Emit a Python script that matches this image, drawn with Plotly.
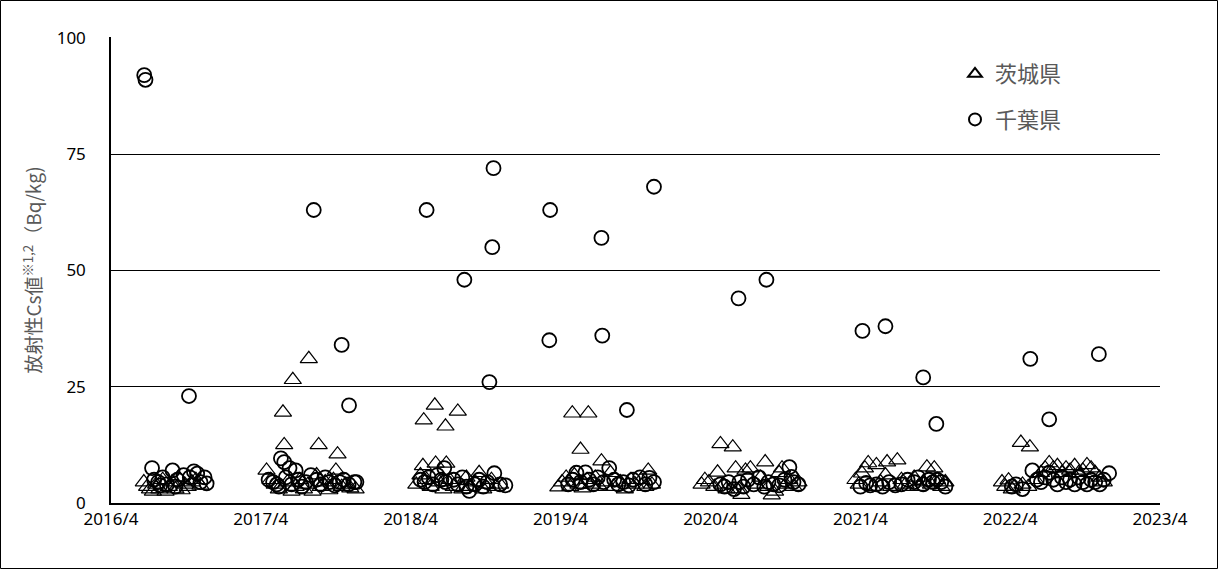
import plotly.graph_objects as go

# ---- data ----
ibaraki_dates = [
    # 2016
    "2016-06-20", "2016-06-28", "2016-07-05", "2016-07-12", "2016-07-20", "2016-07-28", "2016-08-05",
    "2016-08-12", "2016-08-20", "2016-08-28", "2016-09-05", "2016-09-12", "2016-09-20", "2016-09-28",
    "2016-10-05", "2016-10-15", "2016-10-25", "2016-11-05",
    # 2017
    "2017-04-15", "2017-04-25", "2017-05-05", "2017-05-15", "2017-05-25", "2017-05-28", "2017-06-05",
    "2017-06-15", "2017-06-18", "2017-06-25", "2017-07-05", "2017-07-15", "2017-07-25", "2017-07-27",
    "2017-08-05", "2017-08-15", "2017-08-20", "2017-08-25", "2017-09-05", "2017-09-15", "2017-09-25",
    "2017-10-01", "2017-10-05", "2017-10-15", "2017-10-25", "2017-11-05", "2017-11-18",
    # 2018
    "2018-04-15", "2018-04-25", "2018-05-01", "2018-05-03", "2018-05-10", "2018-05-20", "2018-05-30",
    "2018-06-01", "2018-06-10", "2018-06-20", "2018-06-25", "2018-06-27", "2018-07-05", "2018-07-15",
    "2018-07-25", "2018-08-05", "2018-08-15", "2018-08-25", "2018-09-05", "2018-09-15", "2018-09-25",
    "2018-10-05", "2018-10-15", "2018-10-25", "2018-11-05",
    # 2019
    "2019-03-27", "2019-04-05", "2019-04-15", "2019-04-25", "2019-04-30", "2019-05-05", "2019-05-15",
    "2019-05-20", "2019-05-25", "2019-06-05", "2019-06-08", "2019-06-15", "2019-06-25", "2019-07-05",
    "2019-07-10", "2019-07-20", "2019-08-01", "2019-08-10", "2019-08-25", "2019-09-05", "2019-09-20",
    "2019-10-01", "2019-10-15", "2019-10-25", "2019-11-01", "2019-11-10",
    # 2020
    "2020-03-10", "2020-03-18", "2020-03-28", "2020-04-10", "2020-04-18", "2020-04-25", "2020-05-01",
    "2020-05-10", "2020-05-25", "2020-06-01", "2020-06-10", "2020-06-15", "2020-06-25", "2020-07-07",
    "2020-07-20", "2020-08-01", "2020-08-12", "2020-08-20", "2020-08-28", "2020-09-05", "2020-09-15",
    "2020-09-22", "2020-10-01", "2020-10-10", "2020-10-20", "2020-11-01",
    # 2021
    "2021-03-20", "2021-03-28", "2021-04-05", "2021-04-12", "2021-04-20", "2021-05-01", "2021-05-10",
    "2021-05-20", "2021-06-01", "2021-06-05", "2021-06-15", "2021-06-30", "2021-07-10", "2021-07-20",
    "2021-08-01", "2021-08-10", "2021-08-20", "2021-09-01", "2021-09-10", "2021-09-20", "2021-09-28",
    "2021-10-05", "2021-10-15", "2021-10-25",
    # 2022
    "2022-03-12", "2022-03-20", "2022-03-28", "2022-04-05", "2022-04-12", "2022-04-27", "2022-05-01",
    "2022-05-15", "2022-05-19", "2022-06-01", "2022-06-15", "2022-06-25", "2022-07-05", "2022-07-15",
    "2022-07-25", "2022-08-05", "2022-08-15", "2022-08-25", "2022-09-05", "2022-09-15", "2022-09-25",
    "2022-10-05", "2022-10-15", "2022-10-25", "2022-11-05", "2022-11-15",
]
ibaraki_values = [
    # 2016
    4.5, 3.5, 3.0, 2.5, 4.0, 3.0, 5.0, 2.5, 3.5, 4.5, 3.0, 5.5, 2.8, 4.0, 3.5, 4.5, 5.0, 3.8,
    # 2017
    7.0, 5.0, 4.0, 3.0, 19.5, 12.5, 4.5, 2.5, 26.5, 3.5, 5.0, 3.0, 4.0, 31.0,
    2.5, 6.0, 12.5, 3.5, 4.5, 2.8, 5.0, 7.0, 10.5, 3.5, 4.0, 3.2, 3.0,
    # 2018
    4.0, 6.0, 8.0, 17.8, 5.0, 3.5, 21.0, 8.5, 4.5, 3.0, 16.5, 8.5, 5.0, 3.5,
    19.7, 3.0, 5.5, 3.5, 4.5, 6.5, 3.0, 4.0, 5.0, 3.5, 4.0,
    # 2019
    3.4, 4.5, 5.5, 3.5, 19.3, 6.0, 4.0, 11.5, 3.2, 5.0, 19.3, 4.0, 5.5, 3.5,
    9.0, 4.5, 6.5, 3.5, 4.5, 3.0, 5.0, 4.0, 5.0, 3.5, 7.0, 4.0,
    # 2020
    4.0, 5.0, 4.5, 3.5, 6.6, 12.7, 4.0, 3.0, 12.0, 7.5, 3.0, 1.8, 7.0, 7.5,
    4.0, 5.5, 8.8, 3.5, 1.7, 2.5, 6.5, 7.5, 4.0, 5.0, 3.5, 4.5,
    # 2021
    5.0, 4.0, 6.4, 7.5, 8.6, 3.5, 8.2, 4.5, 6.0, 8.8, 3.5, 9.2, 5.0, 4.0,
    3.5, 5.5, 3.5, 4.5, 7.7, 4.0, 7.5, 5.0, 3.5, 4.5,
    # 2022
    4.5, 3.5, 4.9, 3.0, 3.5, 13.0, 4.0, 3.5, 12.0, 5.0, 6.5, 7.5, 8.6, 7.5,
    8.0, 6.5, 7.5, 7.0, 8.0, 6.5, 7.0, 8.2, 7.5, 6.5, 5.5, 4.5,
]

chiba_dates = [
    # 2016
    "2016-06-21", "2016-06-24", "2016-07-10", "2016-07-15", "2016-07-25", "2016-07-30", "2016-08-05",
    "2016-08-15", "2016-08-29", "2016-09-05", "2016-09-10", "2016-09-25", "2016-10-08", "2016-10-10",
    "2016-10-20", "2016-10-28", "2016-11-05", "2016-11-15", "2016-11-20",
    # 2017
    "2017-04-20", "2017-05-01", "2017-05-10", "2017-05-15", "2017-05-20", "2017-05-28", "2017-06-01",
    "2017-06-10", "2017-06-15", "2017-06-25", "2017-07-01", "2017-07-10", "2017-07-20", "2017-08-01",
    "2017-08-08", "2017-08-15", "2017-08-25", "2017-09-05", "2017-09-15", "2017-09-28", "2017-10-10",
    "2017-10-15", "2017-10-20", "2017-11-01", "2017-11-02", "2017-11-15", "2017-11-20",
    # 2018
    "2018-04-25", "2018-05-05", "2018-05-10", "2018-05-15", "2018-05-25", "2018-06-05", "2018-06-15",
    "2018-06-22", "2018-06-25", "2018-07-15", "2018-07-25", "2018-08-05", "2018-08-10", "2018-08-15",
    "2018-08-22", "2018-09-05", "2018-09-15", "2018-09-25", "2018-10-05", "2018-10-10", "2018-10-17",
    "2018-10-20", "2018-10-22", "2018-11-05", "2018-11-18",
    # 2019
    "2019-03-05", "2019-03-07", "2019-04-20", "2019-05-01", "2019-05-10", "2019-05-20", "2019-06-01",
    "2019-06-10", "2019-06-20", "2019-07-01", "2019-07-10", "2019-07-12", "2019-07-15", "2019-07-29",
    "2019-08-10", "2019-08-20", "2019-09-01", "2019-09-10", "2019-09-15", "2019-09-25", "2019-10-12",
    "2019-10-25", "2019-11-04", "2019-11-15", "2019-11-15",
    # 2020
    "2020-04-25", "2020-05-05", "2020-05-15", "2020-05-28", "2020-06-08", "2020-06-10", "2020-06-20",
    "2020-07-01", "2020-07-15", "2020-07-28", "2020-08-10", "2020-08-15", "2020-08-20", "2020-09-01",
    "2020-09-15", "2020-09-28", "2020-10-10", "2020-10-15", "2020-10-20", "2020-11-01",
    # 2021
    "2021-04-01", "2021-04-06", "2021-04-15", "2021-04-25", "2021-05-10", "2021-05-25", "2021-06-01",
    "2021-06-10", "2021-06-25", "2021-07-10", "2021-07-25", "2021-08-10", "2021-08-20", "2021-09-01",
    "2021-09-01", "2021-09-15", "2021-09-25", "2021-10-03", "2021-10-05", "2021-10-15", "2021-10-25",
    # 2022
    "2022-04-05", "2022-04-15", "2022-05-01", "2022-05-20", "2022-05-25", "2022-06-05", "2022-06-15",
    "2022-06-25", "2022-07-05", "2022-07-05", "2022-07-15", "2022-07-25", "2022-08-05", "2022-08-15",
    "2022-08-25", "2022-09-05", "2022-09-15", "2022-09-25", "2022-10-05", "2022-10-15", "2022-10-25",
    "2022-11-03", "2022-11-05", "2022-11-15", "2022-11-28",
]
chiba_values = [
    # 2016
    92.0, 91.0, 7.5, 5.0, 4.5, 3.8, 5.5, 4.0, 7.0, 3.5, 5.0, 6.0, 23.0, 5.5, 6.8, 6.3, 4.5, 5.5, 4.2,
    # 2017
    5.0, 4.5, 4.0, 3.5, 9.6, 8.8, 5.5, 7.5, 4.0, 7.0, 5.0, 3.5, 4.5, 6.0,
    63.0, 5.0, 4.0, 5.5, 4.5, 3.8, 4.5, 34.0, 5.0, 4.0, 21.0, 4.5, 4.5,
    # 2018
    5.0, 4.5, 63.0, 5.5, 4.0, 6.0, 5.0, 7.5, 4.5, 5.0, 4.0, 5.5, 48.0, 3.5,
    2.6, 4.0, 5.0, 3.5, 4.5, 26.0, 55.0, 72.0, 6.4, 4.0, 3.8,
    # 2019
    35.0, 63.0, 4.0, 5.0, 6.5, 4.5, 6.6, 5.0, 4.0, 5.5, 57.0, 36.0, 4.5, 7.5,
    5.0, 4.0, 4.5, 20.0, 3.8, 5.0, 5.5, 4.0, 5.4, 68.0, 4.5,
    # 2020
    4.0, 3.5, 4.5, 3.0, 44.0, 4.5, 3.5, 5.0, 4.0, 5.5, 3.5, 48.0, 4.5, 4.0,
    3.8, 5.0, 7.7, 5.6, 4.5, 4.0,
    # 2021
    3.5, 37.0, 4.3, 3.8, 4.0, 3.5, 38.0, 4.5, 3.8, 4.0, 5.0, 4.5, 5.5, 27.0,
    4.0, 5.0, 4.5, 17.0, 5.0, 4.5, 3.5,
    # 2022
    3.5, 4.0, 3.0, 31.0, 7.0, 5.0, 4.5, 5.5, 18.0, 6.5, 5.0, 4.0, 5.5, 4.5,
    5.0, 4.0, 5.5, 4.5, 4.0, 5.0, 4.5, 32.0, 4.0, 5.0, 6.4,
]

series_names = ["茨城県", "千葉県"]
y_ticks = [0, 25, 50, 75, 100]
x_range = ["2016-04-01", "2023-04-01"]
y_title = "放射性Cs値<sup>※1,2</sup>（Bq/kg)"

# ---- figure ----
fig = go.Figure()
fig.add_trace(go.Scatter(
    x=ibaraki_dates, y=ibaraki_values, mode="markers", name=series_names[0], legendgroup="a",
    marker=dict(symbol="triangle-up-open", size=15, color="black", line=dict(width=1.2, color="black")),
))
fig.add_trace(go.Scatter(
    x=chiba_dates, y=chiba_values, mode="markers", name=series_names[1], legendgroup="b",
    marker=dict(symbol="circle-open", size=14, color="black", line=dict(width=1.8, color="black")),
))

W, H = 1219, 570
ml, mr, mt, mb = 111, 59, 37, 67
pw, ph = W - ml - mr, H - mt - mb

fig.update_layout(
    width=W, height=H,
    margin=dict(l=ml, r=mr, t=mt, b=mb),
    paper_bgcolor="white", plot_bgcolor="white",
    font=dict(family="Noto Sans, Noto Sans CJK JP", size=17, color="black"),
    showlegend=True,
    legend=dict(
        x=(955 - ml) / pw, y=(H - mb - 53) / ph, xanchor="left", yanchor="top",
        font=dict(family="Noto Sans CJK JP", size=22, color="#595959"),
        bgcolor="rgba(0,0,0,0)", itemsizing="constant", itemwidth=30, tracegroupgap=14,
    ),
    xaxis=dict(
        type="date", range=x_range, tick0="2016-04-01", dtick="M12",
        tickformat="%Y/%-m", showgrid=False, zeroline=False,
        showline=True, linecolor="black", linewidth=2,
        ticks="", tickfont=dict(size=17, family="Noto Sans"),
    ),
    yaxis=dict(
        range=[0, 100.2], tickvals=y_ticks, showgrid=True, gridcolor="black", gridwidth=1.3,
        zeroline=False, showline=True, linecolor="black", linewidth=1.5,
        ticks="", ticklabelstandoff=20, tickfont=dict(size=17, family="Noto Sans"),
        title=dict(text=y_title, font=dict(family="Noto Sans CJK JP", size=19, color="#595959"), standoff=10),
    ),
    shapes=[dict(
        type="rect", xref="paper", yref="paper",
        x0=(0.5 - ml) / pw, x1=(W - 1.5 - ml) / pw,
        y0=-(mb - 1.5) / ph, y1=1 + (mt - 0.5) / ph,
        line=dict(color="black", width=1), fillcolor="rgba(0,0,0,0)", layer="below",
    )],
)

fig.write_html(
    "out.html",
    config={"displayModeBar": False},
    post_script="document.body.style.margin='0px';document.body.style.overflow='hidden';",
)
